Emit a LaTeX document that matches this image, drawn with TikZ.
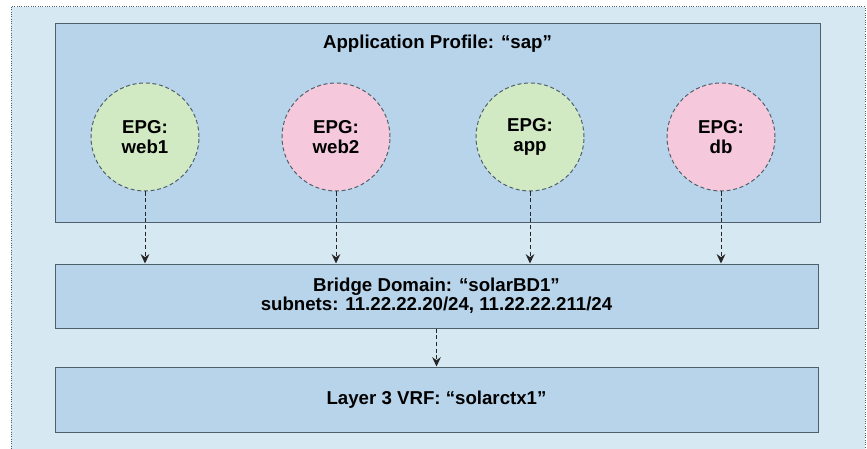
\documentclass[tikz,border=0pt]{standalone}
\usepackage{fontspec}
\setmainfont{Liberation Sans}
\usetikzlibrary{arrows.meta}

\definecolor{outerblue}{RGB}{214,232,242}
\definecolor{boxblue}{RGB}{184,212,234}
\definecolor{epggreen}{RGB}{210,234,196}
\definecolor{epgpink}{RGB}{245,201,219}
\definecolor{edgegray}{RGB}{78,96,108}

\tikzset{every picture/.style={line width=0.75pt}}

\begin{document}
\begin{tikzpicture}[x=0.75pt,y=0.75pt,yscale=-1,xscale=1,
        layerbox/.style={draw=edgegray, fill=boxblue, inner sep=0pt, align=center, font=\bfseries\fontsize{14}{14}\selectfont},
        epg/.style={circle, draw=edgegray, densely dashed, minimum size=81pt, inner sep=0pt, align=center, font=\bfseries\fontsize{14}{14.5}\selectfont},
        link/.style={densely dashed, draw=black!85, -{Stealth[length=7pt,width=6.5pt]}}]
        \useasboundingbox (0,0) rectangle (867,449);
        % outer frame
        \draw [draw=edgegray, fill=outerblue, densely dotted] (11,7) rectangle (865,470);

        % layers
        \node [layerbox, minimum width=573.75pt, minimum height=148.5pt] (ap) at (437.5,123) {};
        \node [font=\bfseries\fontsize{14}{14}\selectfont] (aptitle) at (437.5,44) {Application Profile: ``sap''};
        \node [layerbox, minimum width=572.25pt, minimum height=48pt] (bd) at (436.5,296) {Bridge Domain: ``solarBD1''\\subnets: 11.22.22.20/24, 11.22.22.211/24};
        \node [layerbox, minimum width=572.25pt, minimum height=48.75pt] (vrf) at (436.5,399.5) {Layer 3 VRF: ``solarctx1''};

        % endpoint groups
        \node [epg, fill=epggreen] (web1) at (145,137) {EPG:\\web1};
        \node [epg, fill=epgpink] (web2) at (336,137) {EPG:\\web2};
        \node [epg, fill=epggreen] (app) at (530,137) {EPG:\\app};
        \node [epg, fill=epgpink] (db) at (721,137) {EPG:\\db};

        % connectors
        \draw [link] (web1) -- (web1 |- bd.north);
        \draw [link] (web2) -- (web2 |- bd.north);
        \draw [link] (app) -- (app |- bd.north);
        \draw [link] (db) -- (db |- bd.north);
        \draw [link] (bd) -- (vrf);

    \end{tikzpicture}
\end{document}
